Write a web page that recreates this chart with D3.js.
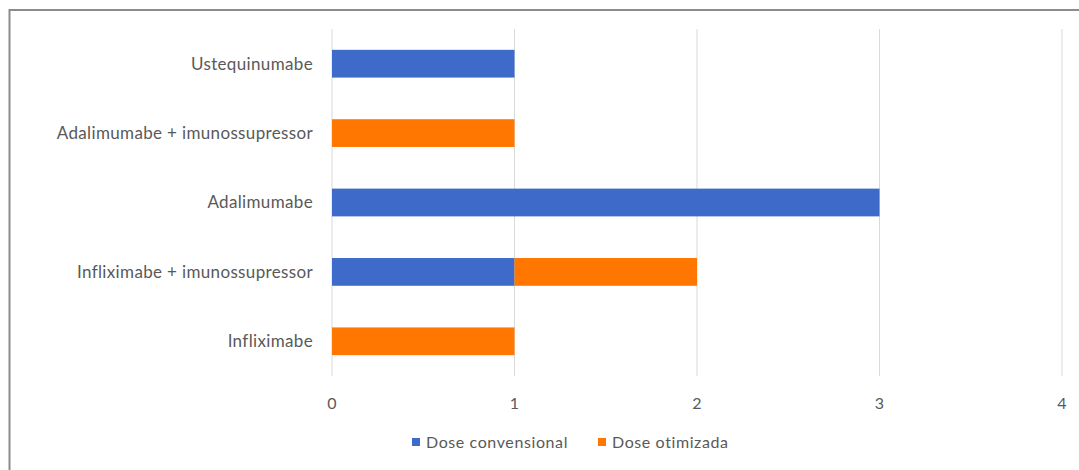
<!DOCTYPE html>
<html>
<head>
<meta charset="utf-8">
<script src="https://cdn.jsdelivr.net/npm/d3@7"></script>
<style>
  body { margin: 0; background: #fff; }
  svg { display: block; font-family: Lato, "Open Sans", sans-serif; }
</style>
</head>
<body>
<div id="container"></div>
<script>
const width = 1079, height = 470;

// Data
const categories = ["Ustequinumabe", "Adalimumabe + imunossupressor", "Adalimumabe", "Infliximabe + imunossupressor", "Infliximabe"];
const series = ["Dose convensional", "Dose otimizada"];
const convencional = [1, 0, 3, 1, 0];
const otimizada = [0, 1, 0, 1, 1];
const xTicks = [0, 1, 2, 3, 4];

const colors = d3.scaleOrdinal().domain(series).range(["#3E6AC9", "#FF7700"]);

const svg = d3.select("#container")
    .append("svg")
    .attr("width", width)
    .attr("height", height);

// Chart frame
svg.append("rect")
    .attr("x", 9.5).attr("y", 10)
    .attr("width", width + 10).attr("height", height + 10)
    .attr("fill", "none")
    .attr("stroke", "#8c8c8c")
    .attr("stroke-width", 2);

const x = d3.scaleLinear().domain([0, 4]).range([332, 1062]);
const y = d3.scaleBand().domain(categories).range([29, 376]).paddingInner(0.6).paddingOuter(0.3);

// Gridlines
svg.append("g")
    .selectAll("line")
    .data(xTicks)
    .enter()
    .append("line")
    .attr("x1", d => x(d)).attr("x2", d => x(d))
    .attr("y1", 29).attr("y2", 376)
    .attr("stroke", "#d9d9d9")
    .attr("stroke-width", 1);

// Stack the two series
const rows = categories.map((c, i) => ({ cat: c, "Dose convensional": convencional[i], "Dose otimizada": otimizada[i] }));
const stacked = d3.stack().keys(series)(rows);

svg.append("g")
    .selectAll("g")
    .data(stacked)
    .enter()
    .append("g")
    .attr("fill", d => colors(d.key))
    .selectAll("rect")
    .data(d => d)
    .enter()
    .append("rect")
    .attr("x", d => x(d[0]))
    .attr("y", d => y(d.data.cat))
    .attr("width", d => x(d[1]) - x(d[0]))
    .attr("height", y.bandwidth());

// Category labels
svg.append("g")
    .attr("font-size", 17)
    .attr("letter-spacing", 0.35)
    .attr("fill", "#595959")
    .attr("text-anchor", "end")
    .selectAll("text")
    .data(categories)
    .enter()
    .append("text")
    .attr("x", 313)
    .attr("y", d => y(d) + y.bandwidth() / 2)
    .attr("dy", "0.35em")
    .text(d => d);

// X tick labels
svg.append("g")
    .attr("font-size", 16)
    .attr("fill", "#595959")
    .attr("text-anchor", "middle")
    .selectAll("text")
    .data(xTicks)
    .enter()
    .append("text")
    .attr("x", d => x(d))
    .attr("y", 403)
    .attr("dy", "0.35em")
    .text(d => d);

// Legend
const legendX = [412, 598];
const legend = svg.append("g")
    .selectAll("g")
    .data(series)
    .enter()
    .append("g")
    .attr("transform", (d, i) => `translate(${legendX[i]},442)`);
legend.append("rect")
    .attr("x", 0).attr("y", -4)
    .attr("width", 8).attr("height", 8)
    .attr("fill", d => colors(d));
legend.append("text")
    .attr("x", 14)
    .attr("dy", "0.35em")
    .attr("font-size", 16)
    .attr("letter-spacing", 0.6)
    .attr("fill", "#595959")
    .text(d => d);
</script>
</body>
</html>
